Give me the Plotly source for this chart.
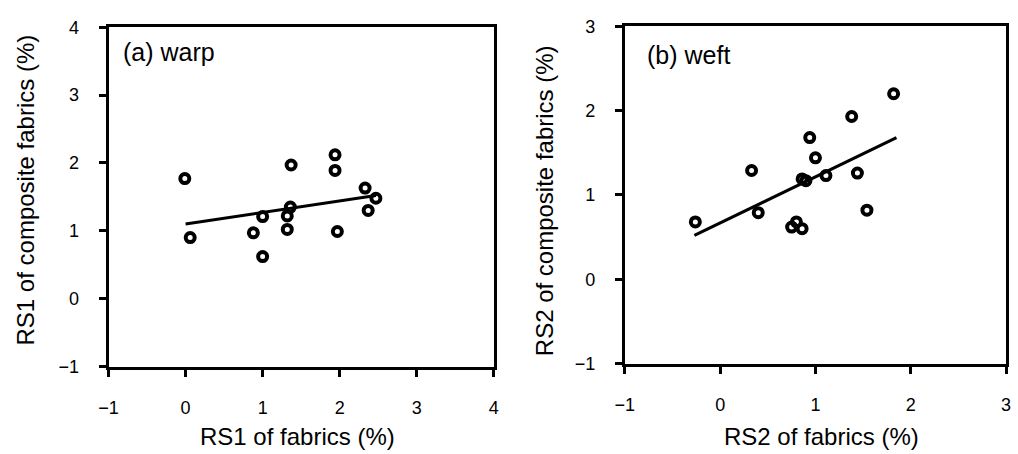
import plotly.graph_objects as go

# ---- data ----
warp_x = [-0.01, 0.06, 0.88, 1.00, 1.00, 1.32, 1.32, 1.36, 1.37, 1.94, 1.94, 1.97, 2.33, 2.47, 2.37]
warp_y = [1.77, 0.90, 0.97, 1.21, 0.62, 1.02, 1.22, 1.35, 1.97, 2.12, 1.89, 0.99, 1.63, 1.48, 1.30]
warp_fit_x = [0.0, 2.47]
warp_fit_y = [1.10, 1.52]

weft_x = [-0.26, 0.33, 0.40, 0.75, 0.80, 0.86, 0.86, 0.90, 0.94, 1.00, 1.11, 1.38, 1.44, 1.54, 1.82]
weft_y = [0.68, 1.29, 0.79, 0.62, 0.68, 0.60, 1.19, 1.17, 1.68, 1.44, 1.23, 1.93, 1.26, 0.82, 2.20]
weft_fit_x = [-0.27, 1.85]
weft_fit_y = [0.52, 1.68]

warp_ticks_x = [-1, 0, 1, 2, 3, 4]
warp_ticks_y = [-1, 0, 1, 2, 3, 4]
weft_ticks_x = [-1, 0, 1, 2, 3]
weft_ticks_y = [-1, 0, 1, 2, 3]

FONT = "Liberation Sans, Arial, sans-serif"
W, H = 1018, 454

fig = go.Figure()

marker = dict(symbol="circle-open", size=9, color="black", line=dict(width=4, color="black"))

fig.add_trace(go.Scatter(x=warp_x, y=warp_y, mode="markers", marker=marker,
                         xaxis="x", yaxis="y", showlegend=False))
fig.add_trace(go.Scatter(x=warp_fit_x, y=warp_fit_y, mode="lines",
                         line=dict(color="black", width=3), xaxis="x", yaxis="y", showlegend=False))
fig.add_trace(go.Scatter(x=weft_x, y=weft_y, mode="markers", marker=marker,
                         xaxis="x2", yaxis="y2", showlegend=False))
fig.add_trace(go.Scatter(x=weft_fit_x, y=weft_fit_y, mode="lines",
                         line=dict(color="black", width=3), xaxis="x2", yaxis="y2", showlegend=False))

def px_x(p):
    return p / W

def px_y(p):
    return 1 - p / H

axis_common = dict(
    showgrid=False, zeroline=False, showline=True, linecolor="black", linewidth=3,
    mirror=True, ticks="outside", ticklen=7, tickwidth=3, tickcolor="black",
    tickfont=dict(family=FONT, size=18, color="black"),
)

fig.update_layout(
    width=W, height=H,
    margin=dict(l=0, r=0, t=0, b=0),
    paper_bgcolor="white", plot_bgcolor="white",
    font=dict(family=FONT, color="black"),
    xaxis=dict(domain=[px_x(100), px_x(491)], range=[-1, 4], tickvals=warp_ticks_x,
               anchor="y", ticklabelstandoff=16, **axis_common),
    yaxis=dict(domain=[px_y(373), px_y(18)], range=[-1, 4], tickvals=warp_ticks_y,
               anchor="x", ticklabelstandoff=16, **axis_common),
    xaxis2=dict(domain=[px_x(624), px_x(1011)], range=[-1, 3], tickvals=weft_ticks_x,
                anchor="y2", ticklabelstandoff=16, **axis_common),
    yaxis2=dict(domain=[px_y(370), px_y(17)], range=[-1, 3], tickvals=weft_ticks_y,
                anchor="x2", ticklabelstandoff=16, **axis_common),
)

title_font = dict(family=FONT, size=24, color="black")
ann = [
    dict(text="(a) warp", x=px_x(113), y=px_y(44), xanchor="left", yanchor="middle",
         font=dict(family=FONT, size=25, color="black")),
    dict(text="(b) weft", x=px_x(644), y=px_y(47), xanchor="left", yanchor="middle",
         font=dict(family=FONT, size=25, color="black")),
    dict(text="RS1 of fabrics (%)", x=px_x(292), y=px_y(446), xanchor="center", yanchor="middle",
         font=title_font),
    dict(text="RS2 of fabrics (%)", x=px_x(824), y=px_y(446), xanchor="center", yanchor="middle",
         font=title_font),
    dict(text="RS1 of composite fabrics (%)", x=px_x(16), y=px_y(188), xanchor="center",
         yanchor="middle", textangle=-90, font=title_font),
    dict(text="RS2 of composite fabrics (%)", x=px_x(542), y=px_y(200), xanchor="center",
         yanchor="middle", textangle=-90, font=title_font),
]
for a in ann:
    a.update(xref="paper", yref="paper", showarrow=False)
fig.update_layout(annotations=ann)

fig.write_html("out.html")
